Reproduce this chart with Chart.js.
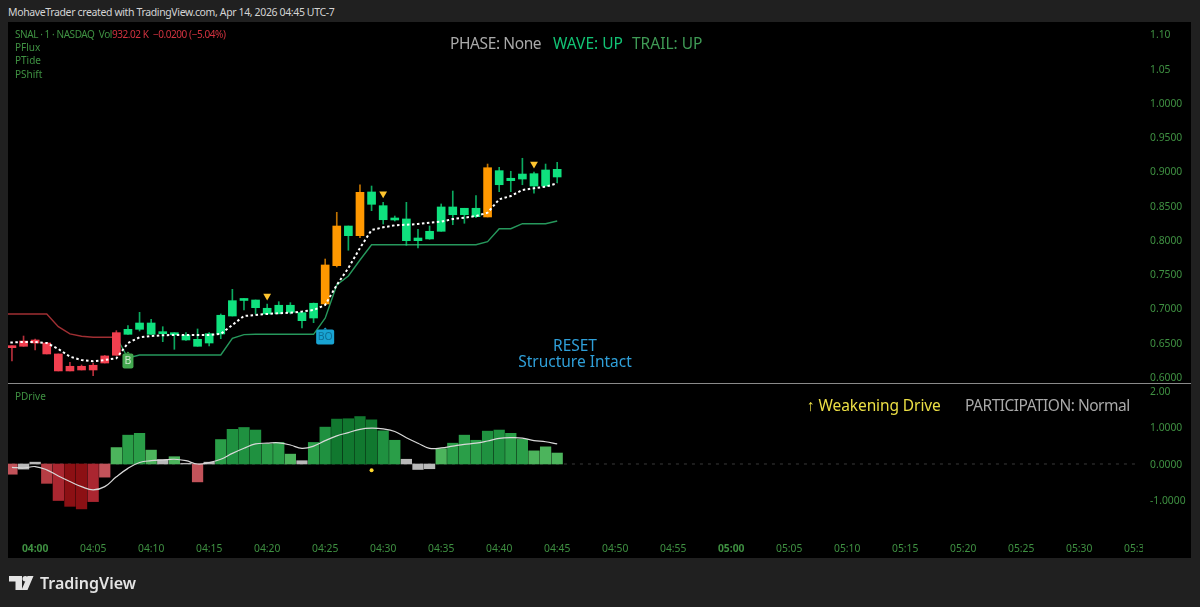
<!DOCTYPE html>
<html>
<head>
<meta charset="utf-8">
<title>SNAL 1m</title>
<script src="https://cdn.jsdelivr.net/npm/chart.js@4/dist/chart.umd.min.js"></script>
<style>
  html, body { margin: 0; padding: 0; background: #202020; width: 1200px; height: 607px; overflow: hidden; }
  body { position: relative; font-family: "Noto Sans", sans-serif; }
  #panel { position: absolute; left: 8px; top: 22px; width: 1183px; height: 536px; background: #000; }
  canvas { position: absolute; left: 8px; }
  #priceChart { top: 23px; }
  #driveChart { top: 385px; }
  #split { position: absolute; left: 8px; top: 383px; width: 1183px; height: 1px; background: #8a8a8a; }
  #mask { position: absolute; left: 1143px; top: 540px; width: 48px; height: 16px; background: #000; }
  .t { position: absolute; white-space: nowrap; line-height: 1; }
  .small { font-size: 10px; color: #3f9142; }
  .big { font-size: 15.5px; }
  #logo { position: absolute; left: 9px; top: 576px; }
  #brand { left: 40px; top: 575px; font-size: 16px; font-weight: 600; color: #e4e4e4; }
</style>
</head>
<body>
<div id="panel"></div>
<canvas id="priceChart" width="1183" height="360"></canvas>
<canvas id="driveChart" width="1183" height="173"></canvas>
<div id="split"></div>
<div id="mask"></div>

<div class="t" style="left:8px;top:7px;font-size:10.5px;letter-spacing:-0.37px;color:#d4d4d4">MohaveTrader created with TradingView.com, Apr 14, 2026 04:45 UTC-7</div>

<div class="t small" style="left:15px;top:29px;letter-spacing:-0.43px">SNAL · 1 · NASDAQ&nbsp; Vol<span style="color:#d0323f">932.02 K&nbsp; −0.0200 (−5.04%)</span></div>
<div class="t small" style="left:15px;top:42px">PFlux</div>
<div class="t small" style="left:15px;top:55px">PTide</div>
<div class="t small" style="left:15px;top:69px">PShift</div>
<div class="t small" style="left:15px;top:391px">PDrive</div>

<div class="t big" style="left:450px;top:36px;letter-spacing:-0.4px;color:#a9a9a9">PHASE: None</div>
<div class="t big" style="left:553px;top:36px;color:#12c274">WAVE: UP</div>
<div class="t big" style="left:632px;top:36px;color:#3f9a55">TRAIL: UP</div>

<div class="t big" style="left:475px;width:200px;text-align:center;top:338px;color:#2f9fd8">RESET</div>
<div class="t big" style="left:475px;width:200px;text-align:center;top:354px;color:#2f9fd8">Structure Intact</div>

<div class="t big" style="left:807px;top:398px;letter-spacing:-0.1px;color:#ecdf45">↑ Weakening Drive</div>
<div class="t big" style="left:965px;top:398px;letter-spacing:-0.5px;color:#a9a9a9">PARTICIPATION: Normal</div>

<svg id="logo" width="25" height="14" viewBox="0 0 25 14">
  <path d="M0 0H13V14H6.5V5.5H0Z M24.5 0L18.5 14H12.5L18.5 0Z" fill="#e4e4e4"/>
  <circle cx="16.2" cy="2.8" r="2.7" fill="#e4e4e4"/>
</svg>
<div class="t" id="brand">TradingView</div>

<script>
// minutes from 04:00
const barMinutes = [-2, -1, 0, 1, 2, 3, 4, 5, 6, 7, 8, 9, 10, 11, 12, 13, 14, 15, 16, 17, 18, 19, 20, 21,
  22, 23, 24, 25, 26, 27, 28, 29, 30, 31, 32, 33, 34, 35, 36, 37, 38, 39, 40, 41, 42, 43, 44, 45];

const opens = [0.6453, 0.6525, 0.6540, 0.6496, 0.6336, 0.6156, 0.6156, 0.6171, 0.6307, 0.6647,
  0.6623, 0.6696, 0.6623, 0.6632, 0.6617, 0.6540, 0.6448, 0.6496, 0.6628, 0.6890,
  0.7117, 0.7012, 0.6920, 0.6924, 0.6944, 0.6822, 0.6861, 0.7066, 0.7625, 0.8063,
  0.8063, 0.8521, 0.8296, 0.8292, 0.7990, 0.7990, 0.8015, 0.8127, 0.8369, 0.8369,
  0.8340, 0.8336, 0.8807, 0.8866, 0.8890, 0.8788, 0.8788, 0.8920];
const closes = [0.6428, 0.6448, 0.6496, 0.6336, 0.6088, 0.6088, 0.6102, 0.6102, 0.6204, 0.6317,
  0.6696, 0.6788, 0.6788, 0.6647, 0.6628, 0.6609, 0.6550, 0.6632, 0.6901, 0.7114,
  0.7128, 0.7124, 0.7003, 0.7047, 0.7047, 0.6939, 0.7076, 0.7635, 0.8204, 0.8204,
  0.8696, 0.8701, 0.8501, 0.8317, 0.8307, 0.8029, 0.8127, 0.8482, 0.8482, 0.8463,
  0.8463, 0.9055, 0.9012, 0.8901, 0.8963, 0.8968, 0.9022, 0.9032];
const highs = [0.6453, 0.6598, 0.6555, 0.6496, 0.6336, 0.6215, 0.6175, 0.6200, 0.6314, 0.6676,
  0.6749, 0.6944, 0.6842, 0.6734, 0.6647, 0.6647, 0.6701, 0.6647, 0.6920, 0.7280,
  0.7143, 0.7124, 0.7066, 0.7099, 0.7085, 0.6949, 0.7080, 0.7722, 0.8404, 0.8204,
  0.8807, 0.8788, 0.8550, 0.8350, 0.8550, 0.8156, 0.8204, 0.8526, 0.8715, 0.8463,
  0.8647, 0.9109, 0.9061, 0.9003, 0.9193, 0.8993, 0.9109, 0.9134];
const lows = [0.6233, 0.6448, 0.6394, 0.6336, 0.6088, 0.6088, 0.6102, 0.6019, 0.6204, 0.6317,
  0.6623, 0.6671, 0.6623, 0.6515, 0.6404, 0.6533, 0.6448, 0.6453, 0.6559, 0.6890,
  0.6978, 0.6920, 0.6920, 0.6920, 0.6920, 0.6715, 0.6793, 0.7051, 0.7606, 0.7850,
  0.8033, 0.8428, 0.8233, 0.8277, 0.7922, 0.7883, 0.8010, 0.8127, 0.8223, 0.8244,
  0.8326, 0.8336, 0.8705, 0.8705, 0.8807, 0.8682, 0.8788, 0.8836];
// bars painted orange by the script
const orangeMinutes = [25, 26, 28, 39];

// white dashed line
const fluxMinutes = [-3].concat(barMinutes);
const fluxValues = [0.6504, 0.6504, 0.6511, 0.6511, 0.6496, 0.6409, 0.6296, 0.6248, 0.6229, 0.6248, 0.6273,
  0.6496, 0.6579, 0.6598, 0.6609, 0.6613, 0.6613, 0.6613, 0.6613, 0.6628, 0.6759,
  0.6890, 0.6905, 0.6920, 0.6930, 0.6939, 0.6956, 0.6978, 0.7051, 0.7343, 0.7591,
  0.7883, 0.8146, 0.8185, 0.8214, 0.8223, 0.8233, 0.8252, 0.8267, 0.8306, 0.8325,
  0.8350, 0.8398, 0.8594, 0.8642, 0.8730, 0.8755, 0.8778, 0.8828];

// trailing stop, red part then green part
const trailRedMinutes = [-3, -2, -1, 0, 1, 2, 3, 4, 5, 6, 7];
const trailRedValues = [0.6920, 0.6920, 0.6920, 0.6920, 0.6920, 0.6734, 0.6628, 0.6594, 0.6580, 0.6580, 0.6580];
const trailGreenMinutes = [7, 8, 9, 10, 11, 12, 13, 14, 15, 16, 17, 18, 19, 20, 21, 22, 23, 24, 25, 26,
  27, 28, 29, 30, 31, 32, 33, 34, 35, 36, 37, 38, 39, 40, 41, 42, 43, 44, 45];
const trailGreenValues = [0.6580, 0.6277, 0.6321, 0.6321, 0.6321, 0.6321, 0.6321, 0.6321, 0.6321, 0.6321,
  0.6565, 0.6618, 0.6623, 0.6623, 0.6623, 0.6623, 0.6623, 0.6623, 0.6857, 0.7343,
  0.7475, 0.7708, 0.7931, 0.7931, 0.7931, 0.7931, 0.7931, 0.7931, 0.7931, 0.7931,
  0.7931, 0.7931, 0.7975, 0.8165, 0.8165, 0.8238, 0.8238, 0.8238, 0.8277];

const triangleMinutes = [20, 30, 43];
const triangleValues = [0.7182, 0.8676, 0.9109];
const signalTexts = ['B', 'BO'];
const signalMinutes = [8, 25];
const signalValues = [0.6234, 0.6584];

// lower pane
const driveValues = [-0.28, -0.14, 0.05, -0.53, -1.00, -1.16, -1.23, -1.03, -0.36, 0.45,
  0.79, 0.84, 0.38, 0.12, 0.20, 0.02, -0.49, 0.05, 0.67, 0.95,
  1.00, 0.93, 0.55, 0.59, 0.27, 0.09, 0.59, 1.01, 1.23, 1.24,
  1.30, 1.21, 0.91, 0.65, 0.13, -0.15, -0.13, 0.42, 0.57, 0.79,
  0.65, 0.90, 0.93, 0.84, 0.68, 0.36, 0.47, 0.30];
const driveSignal = [-0.09, -0.11, -0.07, -0.16, -0.33, -0.48, -0.62, -0.71, -0.62, -0.35,
  -0.12, 0.04, 0.09, 0.11, 0.13, 0.09, 0.00, 0.04, 0.13, 0.29,
  0.43, 0.55, 0.57, 0.58, 0.52, 0.43, 0.49, 0.64, 0.77, 0.86,
  0.95, 0.98, 0.96, 0.89, 0.72, 0.57, 0.43, 0.44, 0.49, 0.54,
  0.57, 0.63, 0.70, 0.72, 0.71, 0.64, 0.61, 0.55];
const dotMinutes = [29];
const dotValues = [-0.17];
const zeroLineMinutes = [-2, 95];
const zeroLine = [0, 0];

// axes
const priceTicks = [0.60, 0.65, 0.70, 0.75, 0.80, 0.85, 0.90, 0.95, 1.00, 1.05, 1.10];
const priceTickLabels = ['0.6000', '0.6500', '0.7000', '0.7500', '0.8000', '0.8500', '0.9000', '0.9500', '1.0000', '1.05', '1.10'];
const driveTicks = [-1, 0, 1, 2];
const driveTickLabels = ['-1.0000', '0.0000', '1.0000', '2.00'];
const timeTicks = [0, 5, 10, 15, 20, 25, 30, 35, 40, 45, 50, 55, 60, 65, 70, 75, 80, 85, 90, 95];
const timeTickLabels = ['04:00', '04:05', '04:10', '04:15', '04:20', '04:25', '04:30', '04:35', '04:40', '04:45',
  '04:50', '04:55', '05:00', '05:05', '05:10', '05:15', '05:20', '05:25', '05:30', '05:35'];

const xMin = -2.34, xMax = 96.1;
const axisGreen = '#3f9142';
// padding 0 and lineHeight 0: otherwise the y scale shrinks the plot top and bottom
const yAxisFont = { family: '"Noto Sans", sans-serif', size: 10.3, lineHeight: 0 };

function pairs(xs, ys) {
  return xs.map((x, i) => ({ x: x, y: ys[i] }));
}

function candleColor(i) {
  if (orangeMinutes.includes(barMinutes[i])) return '#ff9800';
  return closes[i] < opens[i] ? '#f23f4f' : '#0fe17e';
}

function driveColor(v) {
  const a = Math.abs(v);
  if (a <= 0.15) return '#b9b9b9';
  if (v > 0) {
    if (a < 0.5) return '#4cb45c';
    if (a < 0.9) return '#2a9e48';
    if (a < 1.1) return '#1f9140';
    return '#11782f';
  }
  if (a < 0.5) return '#c2535a';
  if (a < 0.8) return '#b53d44';
  if (a < 1.1) return '#aa2630';
  return '#8c1014';
}

// little flag boxes under the bars
const signalPlugin = {
  id: 'signals',
  afterDatasetsDraw(chart) {
    const ctx = chart.ctx, x = chart.scales.x, y = chart.scales.y;
    signalTexts.forEach((txt, i) => {
      const px = x.getPixelForValue(signalMinutes[i]);
      const py = y.getPixelForValue(signalValues[i]);
      const w = txt === 'B' ? 11 : 18, h = 15;
      ctx.save();
      ctx.fillStyle = txt === 'B' ? '#43a84f' : '#19a4d3';
      ctx.beginPath();
      ctx.roundRect(px - w / 2, py - h / 2, w, h, 2);
      ctx.fill();
      ctx.beginPath();
      ctx.moveTo(px - 2, py - h / 2);
      ctx.lineTo(px, py - h / 2 - 2);
      ctx.lineTo(px + 2, py - h / 2);
      ctx.fill();
      ctx.fillStyle = txt === 'B' ? '#c8e6c9' : '#0d6f96';
      ctx.font = '10.5px "Noto Sans", sans-serif';
      ctx.textAlign = 'center';
      ctx.textBaseline = 'middle';
      ctx.fillText(txt, px, py + 0.5);
      ctx.restore();
    });
  }
};

new Chart(document.getElementById('priceChart'), {
  type: 'bar',
  data: {
    datasets: [
      {
        type: 'line', data: pairs(trailRedMinutes, trailRedValues), borderColor: '#a02f33',
        borderWidth: 1.4, pointRadius: 0, tension: 0, order: 5
      },
      {
        type: 'line', data: pairs(trailGreenMinutes, trailGreenValues), borderColor: '#26985c',
        borderWidth: 1.4, pointRadius: 0, tension: 0, order: 5
      },
      {
        data: pairs(barMinutes, lows.map((l, i) => [l, highs[i]])),
        backgroundColor: barMinutes.map((m, i) => candleColor(i) + 'c0'),
        barThickness: 1, grouped: false, order: 4
      },
      {
        data: pairs(barMinutes, opens.map((o, i) => [o, closes[i]])),
        backgroundColor: barMinutes.map((m, i) => candleColor(i)),
        barThickness: 8, grouped: false, minBarLength: 2, order: 3
      },
      {
        type: 'line', data: pairs(fluxMinutes, fluxValues), borderColor: '#ffffff',
        borderWidth: 2, borderDash: [2.5, 2.5], pointRadius: 0, tension: 0, order: 2
      },
      {
        type: 'scatter', data: pairs(triangleMinutes, triangleValues), backgroundColor: '#ffc52f',
        pointStyle: 'triangle', rotation: 180, pointRadius: 4.5, pointBorderWidth: 0, order: 1
      }
    ]
  },
  options: {
    responsive: false,
    animation: false,
    events: [],
    layout: { padding: 0, autoPadding: false },
    plugins: { legend: { display: false }, tooltip: { enabled: false } },
    scales: {
      x: { type: 'linear', offset: false, min: xMin, max: xMax, display: false },
      y: {
        position: 'right',
        offset: false,
        min: 0.5912,
        max: 1.1168,
        grid: { display: false, drawTicks: false },
        border: { display: false },
        afterBuildTicks: axis => { axis.ticks = priceTicks.map(v => ({ value: v })); },
        afterFit: axis => { axis.width = 41; },
        ticks: {
          color: axisGreen,
          font: yAxisFont,
          padding: 0,
          labelOffset: 1,
          crossAlign: 'near',
          callback: (v, i) => priceTickLabels[i]
        }
      }
    }
  },
  plugins: [signalPlugin]
});

new Chart(document.getElementById('driveChart'), {
  type: 'bar',
  data: {
    datasets: [
      {
        type: 'line', data: pairs(zeroLineMinutes, zeroLine), borderColor: '#3a3a3a',
        borderWidth: 1, borderDash: [3, 5], pointRadius: 0, order: 4
      },
      {
        data: pairs(barMinutes, driveValues),
        backgroundColor: ctx => driveColor(ctx.parsed.y),
        barThickness: 10.6, order: 3
      },
      {
        type: 'line', data: pairs(barMinutes, driveSignal), borderColor: '#d8d8d8',
        borderWidth: 1.2, pointRadius: 0, tension: 0.4, order: 2
      },
      {
        type: 'scatter', data: pairs(dotMinutes, dotValues), backgroundColor: '#ffd92e',
        pointRadius: 2, pointBorderWidth: 0, order: 1
      }
    ]
  },
  options: {
    responsive: false,
    animation: false,
    events: [],
    layout: { padding: 0, autoPadding: false },
    plugins: { legend: { display: false }, tooltip: { enabled: false } },
    scales: {
      x: {
        type: 'linear',
        offset: false,
        min: xMin,
        max: xMax,
        grid: { display: false, drawTicks: false },
        border: { display: false },
        afterBuildTicks: axis => { axis.ticks = timeTicks.map(v => ({ value: v })); },
        afterFit: axis => { axis.height = 23; },
        ticks: {
          color: axisGreen,
          autoSkip: false,
          maxRotation: 0,
          padding: 8,
          font: c => ({
            family: yAxisFont.family,
            size: yAxisFont.size,
            weight: c.tick && c.tick.value % 60 === 0 ? 'bold' : 'normal'
          }),
          callback: (v, i) => timeTickLabels[i]
        }
      },
      y: {
        position: 'right',
        offset: false,
        min: -1.945,
        max: 2.164,
        grid: { display: false, drawTicks: false },
        border: { display: false },
        afterBuildTicks: axis => { axis.ticks = driveTicks.map(v => ({ value: v })); },
        afterFit: axis => { axis.width = 41; },
        ticks: {
          color: axisGreen,
          font: yAxisFont,
          padding: 0,
          labelOffset: 1,
          crossAlign: 'near',
          callback: (v, i) => driveTickLabels[i]
        }
      }
    }
  }
});
</script>
</body>
</html>
